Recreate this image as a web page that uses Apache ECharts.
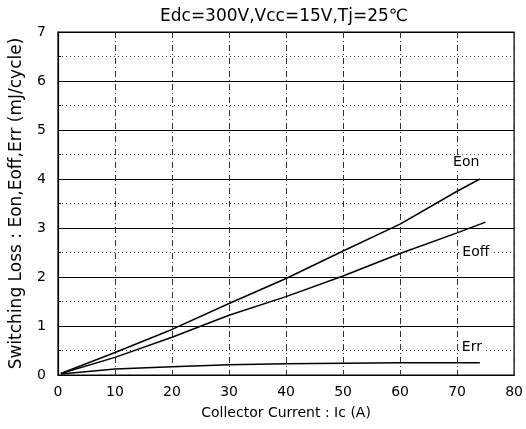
<!DOCTYPE html>
<html>
<head>
<meta charset="utf-8">
<script src="https://cdn.jsdelivr.net/npm/echarts@6/dist/echarts.min.js"></script>
<style>
html,body{margin:0;padding:0;background:#fff;}
#chart{width:526px;height:429px;}
</style>
</head>
<body>
<div id="chart"></div>
<script>
var titleText = 'Edc=300V,Vcc=15V,Tj=25\u2103';
var xName = 'Collector Current : Ic (A)';
var yName = 'Switching Loss : Eon,Eoff,Err (mJ/cycle)';

var eonX = [0.5, 10, 20, 30, 40, 50, 60, 70, 74];
var eonY = [0.03, 0.46, 0.93, 1.46, 1.97, 2.53, 3.08, 3.75, 4.0];
var eoffX = [0.5, 10, 20, 30, 40, 50, 60, 70, 75];
var eoffY = [0.03, 0.36, 0.77, 1.22, 1.60, 2.02, 2.48, 2.90, 3.12];
var errX = [0.5, 10, 20, 30, 40, 50, 60, 70, 74];
var errY = [0.02, 0.12, 0.17, 0.21, 0.23, 0.24, 0.25, 0.25, 0.25];

var labelNames = ['Eon', 'Eoff', 'Err'];
var labelX = [71.6, 73.3, 72.6];
var labelY = [4.33, 2.51, 0.57];

function pairs(xs, ys){ return xs.map(function(x,i){ return [x, ys[i]]; }); }

var font = 'DejaVu Sans';
var chart = echarts.init(document.getElementById('chart'), null, {renderer:'canvas'});

function mkSeries(name, xs, ys, idx){
  return {
    name: name,
    type: 'line',
    data: pairs(xs, ys),
    symbol: 'none',
    smooth: false,
    lineStyle: {color: '#000', width: 1.5},
    z: 5,
    markPoint: {
      symbol: 'rect',
      symbolSize: 1,
      itemStyle: {color: 'rgba(0,0,0,0)'},
      data: [{coord: [labelX[idx], labelY[idx]], value: labelNames[idx]}],
      label: {
        show: true, position: 'inside', formatter: labelNames[idx],
        color: '#000', fontFamily: font, fontSize: 14,
        backgroundColor: '#fff', padding: [1, 2]
      }
    }
  };
}

chart.setOption({
  animation: false,
  backgroundColor: '#fff',
  title: {
    text: titleText, left: 155, top: 3,
    textStyle: {fontFamily: font, fontSize: 17, fontWeight: 'normal', color: '#000'}
  },
  grid: {left: 54, right: 10, top: 32, bottom: 54, show: true, borderColor: '#000', borderWidth: 1.2},
  xAxis: {
    type: 'value', min: 0, max: 80, interval: 10,
    name: xName, nameLocation: 'middle', nameGap: 31,
    nameTextStyle: {fontFamily: font, fontSize: 14, color: '#000'},
    axisLine: {show: true, lineStyle: {color: '#000', width: 1.2}},
    axisTick: {show: false},
    axisLabel: {fontFamily: font, fontSize: 14, color: '#000', margin: 10},
    splitLine: {show: true, lineStyle: {color: '#333', width: 1, type: [6, 3, 1, 3]}}
  },
  yAxis: {
    type: 'value', min: 0, max: 7, interval: 1,
    name: yName, nameLocation: 'middle', nameGap: 33,
    nameTextStyle: {fontFamily: font, fontSize: 17, color: '#000'},
    axisLine: {show: true, lineStyle: {color: '#000', width: 1.2}},
    axisTick: {show: true, inside: true, length: 4, lineStyle: {color: '#000'}},
    minorTick: {show: true, splitNumber: 2, length: 3, lineStyle: {color: '#000'}},
    axisLabel: {fontFamily: font, fontSize: 14, color: '#000', margin: 12},
    splitLine: {show: true, lineStyle: {color: '#000', width: 1.2, type: 'solid'}},
    minorSplitLine: {show: true, lineStyle: {color: '#333', width: 1, type: [1, 3]}}
  },
  series: [
    mkSeries('Eon', eonX, eonY, 0),
    mkSeries('Eoff', eoffX, eoffY, 1),
    mkSeries('Err', errX, errY, 2)
  ]
});
</script>
</body>
</html>
